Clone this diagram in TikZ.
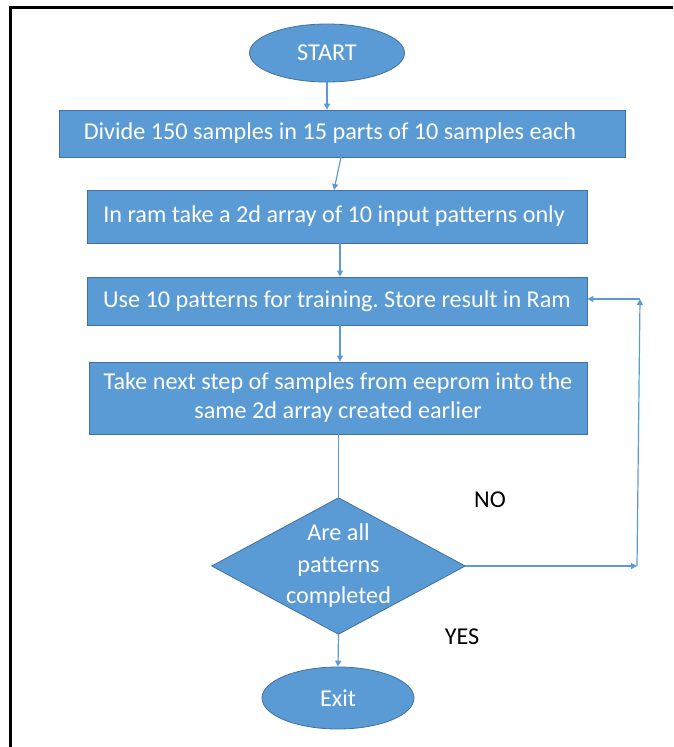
\documentclass[tikz,border=0pt]{standalone}
\usepackage{fontspec}
\setmainfont{Carlito}[Ligatures={NoCommon}]
\usetikzlibrary{shapes.geometric,arrows.meta,backgrounds}
\definecolor{boxfill}{HTML}{5B9BD5}
\definecolor{boxline}{HTML}{41719C}
\definecolor{conn}{HTML}{5B9BD5}
\tikzset{
  stepbox/.style={rectangle,fill=boxfill,draw=boxline,line width=0.8pt,text=white,
    font=\fontsize{24.2}{29}\selectfont,align=center,inner sep=0pt},
  termnode/.style={ellipse,fill=boxfill,draw=boxline,line width=0.8pt,text=white,
    font=\fontsize{24.2}{29}\selectfont,inner sep=0pt},
  decnode/.style={rectangle,text=white,
    font=\fontsize{24.2}{31.5}\selectfont,align=center,inner sep=0pt},
  decshape/.style={fill=boxfill,draw=boxline,line width=0.8pt},
  flow/.style={draw=conn,line width=1.2pt,-{Triangle[length=6pt,width=6pt]}},
  plainflow/.style={draw=conn,line width=1.2pt},
  lbl/.style={font=\fontsize{24.2}{29}\selectfont,text=black,inner sep=0pt}
}
\frenchspacing
\begin{document}
\begin{tikzpicture}[x=1pt,y=-1pt]
\useasboundingbox (0,0) rectangle (673,747);
% frame
\draw[line width=3pt,black] (10.5,747) -- (10.5,7.5) -- (673,7.5);

\node[termnode,minimum width=155pt,minimum height=58pt] (start) at (327,53) {START};
\node[stepbox,minimum width=566pt,minimum height=47pt] (b1) at (342,133.5) {Divide 150 samples in 15 parts of 10 samples each\hspace*{24pt}};
\node[stepbox,minimum width=500pt,minimum height=53pt] (b2) at (337,216.5) {In ram take a 2d array of 10 input patterns only\hspace*{6pt}};
\node[stepbox,minimum width=500pt,minimum height=48pt] (b3) at (337,301) {Use 10 patterns for training. Store result in Ram};
\node[stepbox,minimum width=498pt,minimum height=72pt] (b4) at (338,398) {Take next step of samples from eeprom into the\\same 2d array created earlier};
\node[decnode,minimum width=253pt,minimum height=136pt] (dec) at (338.5,566) {Are all\\patterns\\completed};
\begin{scope}[on background layer]
\draw[decshape] (dec.north) -- (dec.east) -- (dec.south) -- (dec.west) -- cycle;
\end{scope}
\node[termnode,minimum width=152pt,minimum height=62pt] (exit) at (338,698) {Exit};

\node[lbl] (no) at (490,500) {NO};
\node[lbl] (yes) at (462,637) {YES};

\coordinate (c1) at (637,566);
\coordinate (c2) at (640,299);

\draw[flow] (start.south) -- (b1.north -| start.south);
\draw[flow] (341,157) -- (334,190);
\draw[flow] (b2.south -| 340,0) -- (b3.north -| 340,0);
\draw[flow] (b3.south -| 340,0) -- (b4.north -| 340,0);
\draw[plainflow] (b4.south -| dec.north) -- (dec.north);
\draw[flow] (dec.south) -- (exit.north);
\draw[flow] (dec.east) -- (c1);
\draw[flow] (c1) -- (c2);
\draw[flow] (c2) -- (b3.east |- c2);
\end{tikzpicture}
\end{document}
